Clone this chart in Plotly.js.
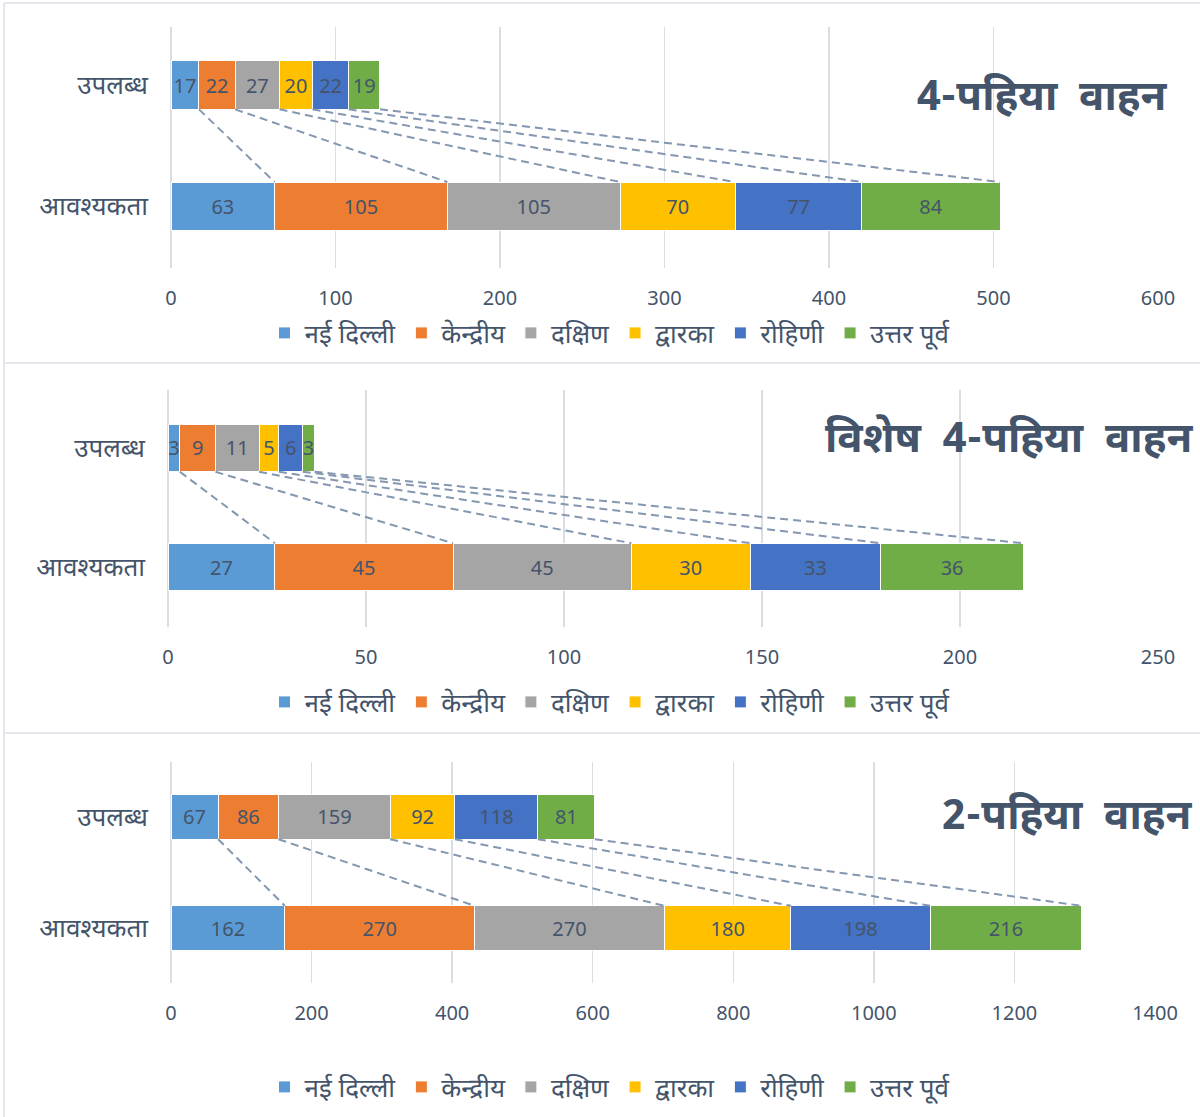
<!DOCTYPE html>
<html>
<head>
<meta charset="utf-8">
<script src="https://cdn.plot.ly/plotly-3.0.1.min.js"></script>
<style>html,body{margin:0;padding:0;background:#fff;}#chart{width:1200px;height:1117px;}</style>
</head>
<body>
<div id="chart"></div>
<script>
// ---- data ----
const categories = ['आवश्यकता', 'उपलब्ध'];
const regions = ['नई दिल्ली', 'केन्द्रीय', 'दक्षिण', 'द्वारका', 'रोहिणी', 'उत्तर पूर्व'];
const regionColors = ['#5B9BD5', '#ED7D31', '#A5A5A5', '#FFC000', '#4472C4', '#70AD47'];

const panelTitles = ['4-पहिया  वाहन', 'विशेष  4-पहिया  वाहन', '2-पहिया  वाहन'];

const fourWheelRequired  = [63, 105, 105, 70, 77, 84];
const fourWheelAvailable = [17, 22, 27, 20, 22, 19];

const special4Required  = [27, 45, 45, 30, 33, 36];
const special4Available = [3, 9, 11, 5, 6, 3];

const twoWheelRequired  = [162, 270, 270, 180, 198, 216];
const twoWheelAvailable = [67, 86, 159, 92, 118, 81];

const xTicks1 = [0, 100, 200, 300, 400, 500, 600];
const xTicks2 = [0, 50, 100, 150, 200, 250];
const xTicks3 = [0, 200, 400, 600, 800, 1000, 1200, 1400];

// ---- layout helpers ----
const W = 1200, H = 1117;
const FONT = 'Noto Sans Devanagari, Noto Sans, sans-serif';
const TXT = '#44546A';
const BARW = 0.4;
const py = p => 1 - p / H;
const px = p => p / W;

const panels = [
  {req: fourWheelRequired, av: fourWheelAvailable, ticks: xTicks1, xd: [171, 1158], yd: [27, 268], yr: [-0.51, 1.48], legY: 333, title: panelTitles[0], tx: 1170, ty: 100},
  {req: special4Required, av: special4Available, ticks: xTicks2, xd: [168, 1158], yd: [390, 627], yr: [-0.504, 1.487], legY: 702, title: panelTitles[1], tx: 1195, ty: 441},
  {req: twoWheelRequired, av: twoWheelAvailable, ticks: xTicks3, xd: [171, 1155], yd: [762, 983], yr: [-0.495, 1.495], legY: 1087, title: panelTitles[2], tx: 1195, ty: 818}
];

const data = [];
const layout = {
  width: W, height: H,
  margin: {l: 0, r: 0, t: 0, b: 0},
  paper_bgcolor: '#ffffff', plot_bgcolor: 'rgba(0,0,0,0)',
  barmode: 'stack',
  font: {family: FONT, color: TXT, size: 20},
  showlegend: true,
  annotations: [],
  shapes: []
};

const yPos = categories.map((c, i) => i);

panels.forEach((p, k) => {
  const sfx = k === 0 ? '' : String(k + 1);
  const xa = 'x' + sfx, ya = 'y' + sfx;
  const legName = 'legend' + sfx;

  regions.forEach((r, i) => {
    const vals = [p.req[i], p.av[i]];
    data.push({
      type: 'bar', orientation: 'h',
      name: r, x: vals, y: yPos, width: BARW,
      xaxis: xa, yaxis: ya, legend: legName,
      marker: {color: regionColors[i], line: {color: '#ffffff', width: 1}},
      text: vals.map(String), textposition: 'inside', insidetextanchor: 'middle',
      constraintext: 'none', cliponaxis: false,
      textfont: {family: 'Noto Sans, sans-serif', size: 20, color: TXT},
      hoverinfo: 'x+name'
    });
  });

  // series (connector) lines between segment ends
  let cT = 0, cB = 0;
  const lx = [], ly = [];
  regions.forEach((r, i) => {
    cT += p.av[i]; cB += p.req[i];
    lx.push(cT, cB, null);
    ly.push(yPos[1] - BARW / 2, yPos[0] + BARW / 2, null);
  });
  data.push({
    type: 'scatter', mode: 'lines', x: lx, y: ly, xaxis: xa, yaxis: ya,
    line: {color: '#8497B0', width: 2, dash: '8px,5px'},
    showlegend: false, hoverinfo: 'skip', legend: legName
  });

  layout['xaxis' + sfx] = {
    domain: [px(p.xd[0]), px(p.xd[1])], anchor: ya,
    range: [p.ticks[0], p.ticks[p.ticks.length - 1]],
    tickvals: p.ticks, ticktext: p.ticks.map(String),
    showgrid: true, gridcolor: '#D9DEE5', gridwidth: 1.5,
    zeroline: true, zerolinecolor: '#D9DEE5', zerolinewidth: 1.5,
    showline: false, ticks: '', ticklabelstandoff: 16,
    tickfont: {family: 'Noto Sans, sans-serif', size: 20, color: TXT},
    fixedrange: true
  };
  layout['yaxis' + sfx] = {
    domain: [py(p.yd[1]), py(p.yd[0])], anchor: xa,
    range: p.yr, tickvals: yPos, ticktext: categories,
    showgrid: false, zeroline: false, showline: false, ticks: '',
    ticklabelstandoff: 22,
    tickfont: {family: FONT, size: 26, color: TXT},
    fixedrange: true
  };
  layout[legName] = {
    orientation: 'h', x: px(610), xanchor: 'center', y: py(p.legY), yanchor: 'middle',
    font: {family: FONT, size: 26, color: TXT},
    bgcolor: 'rgba(0,0,0,0)', traceorder: 'normal',
    itemwidth: 30, tracegroupgap: 0
  };
  layout.annotations.push({
    xref: 'paper', yref: 'paper', x: px(p.tx), y: py(p.ty),
    xanchor: 'right', yanchor: 'middle', showarrow: false,
    text: '<b>' + p.title + '</b>',
    font: {family: FONT, size: 42, color: TXT}
  });
});

// panel frames
const frameColor = '#E3E6EA';
[3, 363, 733].forEach(yy => {
  layout.shapes.push({type: 'line', xref: 'paper', yref: 'paper', x0: px(4), x1: 1, y0: py(yy), y1: py(yy), line: {color: frameColor, width: 2}});
});
layout.shapes.push({type: 'line', xref: 'paper', yref: 'paper', x0: px(4), x1: px(4), y0: py(3), y1: 0, line: {color: frameColor, width: 2}});

Plotly.newPlot('chart', data, layout, {displayModeBar: false, staticPlot: true});
</script>
</body>
</html>
